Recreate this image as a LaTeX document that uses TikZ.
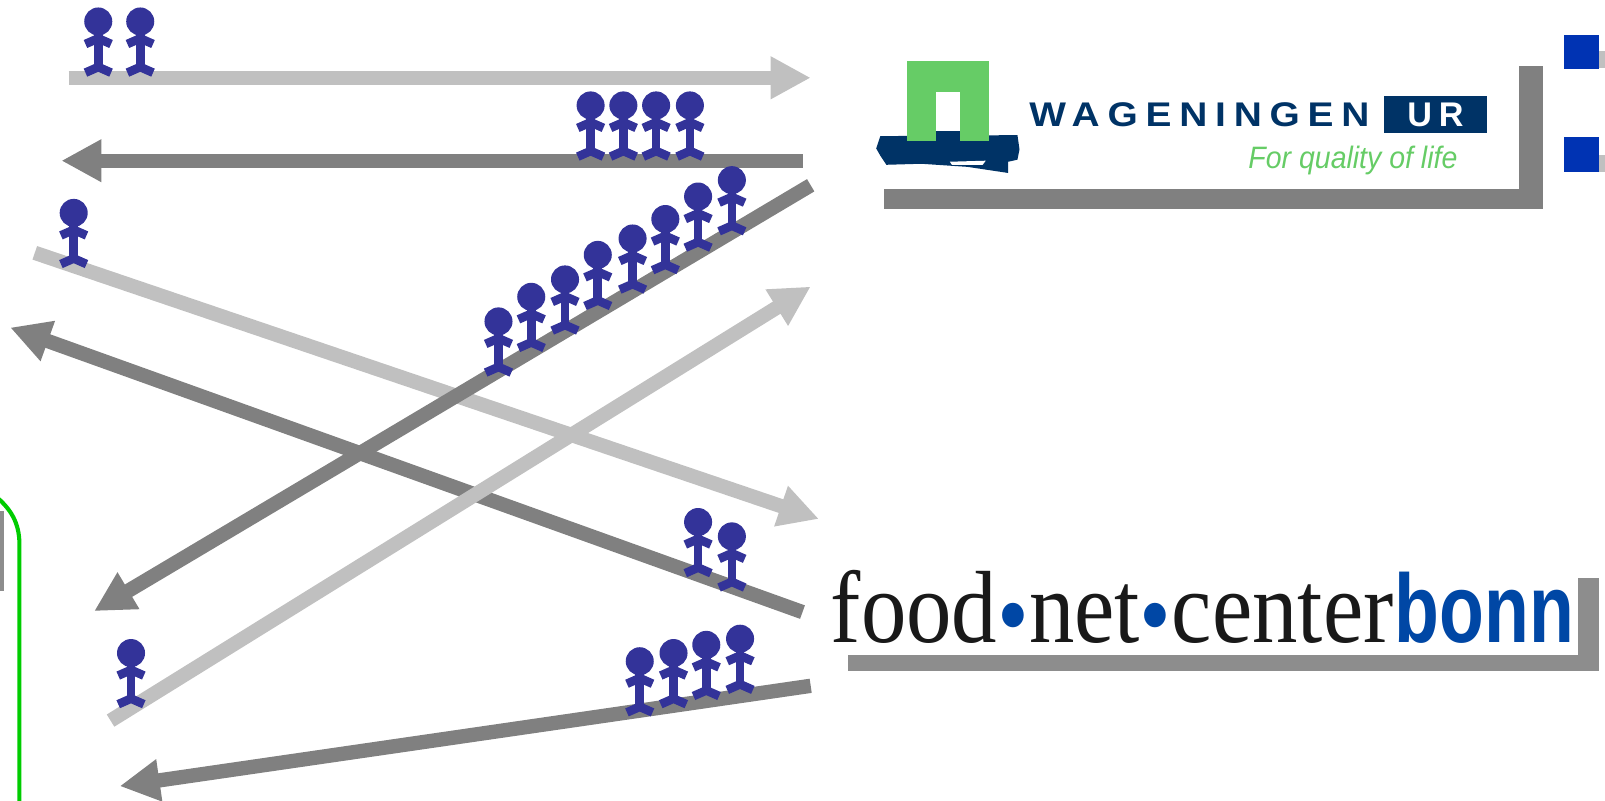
\documentclass[tikz,border=0pt]{standalone}
\usepackage{fontspec}
\setmainfont{Liberation Sans}
\newfontfamily\foodfont{Liberation Serif}
\newfontfamily\wurfont[LetterSpace=20]{Liberation Sans}
\usetikzlibrary{arrows.meta, positioning}
\definecolor{arrowlight}{HTML}{C0C0C0}
\definecolor{arrowdark}{HTML}{808080}
\definecolor{personblue}{HTML}{333399}
\definecolor{wurnavy}{HTML}{003366}
\definecolor{wurgreen}{HTML}{66CC66}
\definecolor{bonnblue}{HTML}{0047A5}
\definecolor{bulletblue}{HTML}{0033B3}
\definecolor{framegreen}{HTML}{00CC00}

\begin{document}
\begin{tikzpicture}[
    x=0.01cm, y=-0.01cm,
    lightarrow/.style={draw=arrowlight, line width=0.14cm, -{Triangle[length=0.39cm,width=0.39cm]}},
    darkarrow/.style={draw=arrowdark, line width=0.14cm, -{Triangle[length=0.39cm,width=0.39cm]}},
    shadowbar/.style={fill=arrowdark, draw=none},
    bullet/.style={fill=bulletblue, draw=none},
    person/.pic={
        \fill[personblue] (0,0) circle (13.7);
        \draw[personblue, line width=0.085cm] (0,10) -- (0,44);
        \draw[personblue, line width=0.085cm] (-12.5,22) -- (0,16.5) -- (12.5,22);
        \draw[personblue, line width=0.085cm] (-12.5,50) -- (0,44.5) -- (12.5,50);
    }
]
    \useasboundingbox (0,0) rectangle (1568,782);

    % left edge
    \fill[arrowdark!90] (0,499) rectangle (4,577);
    \draw[framegreen, line width=0.04cm] (-4,485) .. controls (10,497) and (19,510) .. (19,532) -- (19,790);

    % arrow ends
    \coordinate (topS) at (67,76);
    \coordinate (topE) at (792,76);
    \coordinate (backS) at (784,157);
    \coordinate (backE) at (60,157);
    \coordinate (fallS) at (792,181);
    \coordinate (fallE) at (92,597);
    \coordinate (crossS) at (34,247);
    \coordinate (crossE) at (800,507);
    \coordinate (riseS) at (784,598);
    \coordinate (riseE) at (10,320);
    \coordinate (upS) at (108,704);
    \coordinate (upE) at (792,280);
    \coordinate (lowS) at (792,670);
    \coordinate (lowE) at (117,768);

    \draw [lightarrow] (topS) -- (topE);
    \draw [darkarrow] (backS) -- (backE);
    \draw [lightarrow] (crossS) -- (crossE);
    \draw [darkarrow] (fallS) -- (fallE);
    \draw [darkarrow] (riseS) -- (riseE);
    \draw [lightarrow] (upS) -- (upE);
    \draw [darkarrow] (lowS) -- (lowE);

    % people
    \pic at (96,21) {person};
    \pic at (137,21) {person};
    \pic at (577,103) {person};
    \pic at (609,103) {person};
    \pic at (641,103) {person};
    \pic at (674,103) {person};
    \pic at (715,176) {person};
    \pic at (682,192) {person};
    \pic at (650,214) {person};
    \pic at (618,233) {person};
    \pic at (584,249) {person};
    \pic at (552,273) {person};
    \pic at (519,290) {person};
    \pic at (487,314) {person};
    \pic at (72,208) {person};
    \pic at (682,510) {person};
    \pic at (715,524) {person};
    \pic at (128,638) {person};
    \pic at (625,646) {person};
    \pic at (658,638) {person};
    \pic at (690,630) {person};
    \pic at (723,624) {person};

    % wageningen logo
    \fill[shadowbar] (864,185) rectangle (1507,204);
    \fill[shadowbar] (1484,64) rectangle (1507,204);
    \fill[wurnavy] (860,133) -- (994,132) -- (996,146) -- (994,156) -- (985,158) -- (985,169) -- (965,166) -- (945,163) -- (900,160) -- (866,161) -- (860,152) -- (856,145) -- cycle;
    \fill[white] (928,158) -- (963,157) -- (960,161) -- (930,161) -- cycle;
    \fill[wurgreen] (886,60) rectangle (966,138);
    \fill[white] (914,90) rectangle (938,128);
    \fill[wurnavy] (914,128) rectangle (938,138);
    \node (wurname) [anchor=base west, inner sep=0pt, text=wurnavy, font=\wurfont\bfseries\fontsize{9.5}{10}\selectfont] at (1005,124) {\scalebox{1.137}[1]{WAGENINGEN}};
    \node (wurbox) [anchor=center, fill=wurnavy, minimum width=1.01cm, minimum height=0.36cm, inner sep=0pt, text=white, font=\wurfont\bfseries\fontsize{9.5}{10}\selectfont] at (1402.5,112) {UR};
    \node (wurslogan) [anchor=base west, inner sep=0pt, text=wurgreen, font=\itshape\fontsize{8.6}{9}\selectfont] at (1219,165) {\scalebox{0.92}[1]{For quality of life}};

    % food net logo
    \fill[shadowbar, fill=arrowdark!90!white] (828,640) rectangle (1562,656);
    \fill[shadowbar, fill=arrowdark!90!white] (1542,565) rectangle (1562,656);
    \fill[white] (810,556) rectangle (1542,640);
    \node (foodname) [anchor=base west, inner sep=0pt, text=black!90] at (811,628) {\foodfont\fontsize{28.5}{29}\selectfont\scalebox{0.885}[1]{food\raisebox{-0.07cm}{\textcolor{bonnblue}{•}}net\raisebox{-0.07cm}{\textcolor{bonnblue}{•}}center}};
    \node (bonnname) [anchor=base west, inner sep=0pt, text=bonnblue] at (foodname.base east) {\fontsize{27}{27}\selectfont\bfseries\scalebox{0.755}[1]{bonn}};

    % bullets
    \fill[arrowlight] (1562,50) rectangle (1568,66);
    \fill[arrowlight] (1562,151) rectangle (1568,168);
    \fill[bullet] (1528,34) rectangle (1562,67);
    \fill[bullet] (1528,134) rectangle (1562,168);
\end{tikzpicture}
\end{document}
